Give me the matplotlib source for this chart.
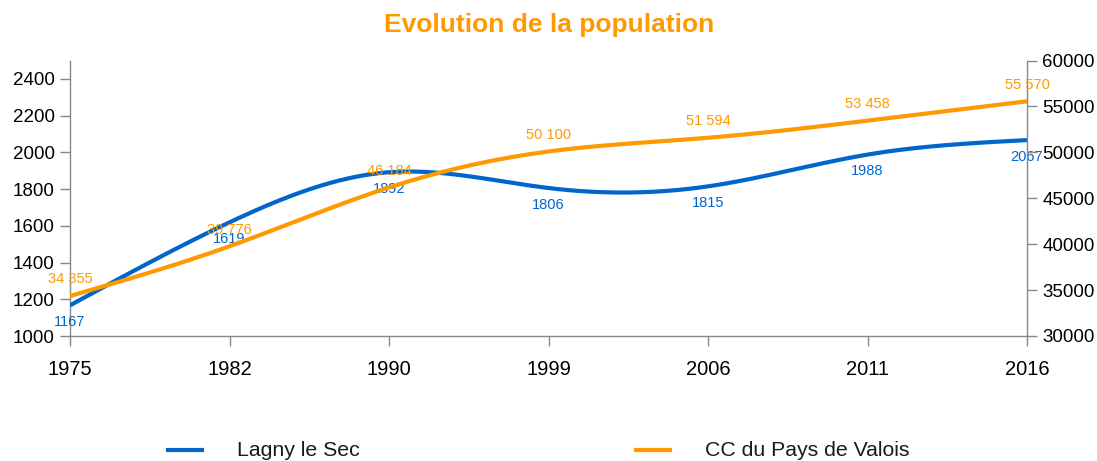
import numpy as np
import matplotlib
matplotlib.use("Agg")
import matplotlib.pyplot as plt
from matplotlib.lines import Line2D
from matplotlib import font_manager

plt.rcParams['font.family'] = ['Liberation Sans', 'DejaVu Sans']

years = ['1975', '1982', '1990', '1999', '2006', '2011', '2016']
lagny = [1167, 1619, 1892, 1806, 1815, 1988, 2067]
valois = [34355, 39776, 46184, 50100, 51594, 53458, 55570]
valois_labels = ['34 355', '39 776', '46 184', '50 100', '51 594', '53 458', '55 570']

BLUE = '#0066cc'
ORANGE = '#ff9900'
GRAY = '#888888'

names = {f.name for f in font_manager.fontManager.ttflist}
if 'Liberation Sans Narrow' in names:
    LBL_FAMILY = ['Liberation Sans Narrow', 'DejaVu Sans']
    LBL_SIZE = 12.5
else:
    LBL_FAMILY = ['Liberation Sans', 'DejaVu Sans']
    LBL_SIZE = 10.5


def natural_spline(x, y, n=400):
    x = np.asarray(x, float)
    y = np.asarray(y, float)
    m = len(x)
    h = np.diff(x)
    A = np.zeros((m, m))
    b = np.zeros(m)
    A[0, 0] = 1
    A[-1, -1] = 1
    for i in range(1, m - 1):
        A[i, i - 1] = h[i - 1]
        A[i, i] = 2 * (h[i - 1] + h[i])
        A[i, i + 1] = h[i]
        b[i] = 6 * ((y[i + 1] - y[i]) / h[i] - (y[i] - y[i - 1]) / h[i - 1])
    M = np.linalg.solve(A, b)
    xs = np.linspace(x[0], x[-1], n)
    ys = np.empty_like(xs)
    for k, xv in enumerate(xs):
        i = min(np.searchsorted(x, xv, side='right') - 1, m - 2)
        t0 = x[i + 1] - xv
        t1 = xv - x[i]
        ys[k] = (M[i] * t0 ** 3 / (6 * h[i]) + M[i + 1] * t1 ** 3 / (6 * h[i])
                 + (y[i] / h[i] - M[i] * h[i] / 6) * t0
                 + (y[i + 1] / h[i] - M[i + 1] * h[i] / 6) * t1)
    return xs, ys


fig = plt.figure(figsize=(10.97, 4.61), dpi=100)
ax = fig.add_axes([70 / 1097, 1 - 336 / 461, (1027 - 70) / 1097, (336 - 60.6) / 461])
ax2 = ax.twinx()

x = np.arange(len(years))
xs, ys = natural_spline(x, lagny)
ax.plot(xs, ys, color=BLUE, lw=3, solid_capstyle='butt', zorder=3)
xs2, ys2 = natural_spline(x, valois)
ax2.plot(xs2, ys2, color=ORANGE, lw=3, solid_capstyle='butt', zorder=3)

ax.set_xlim(0, len(years) - 1)
ax.set_ylim(1000, 2500)
ax2.set_ylim(30000, 60000)
ax.set_yticks(np.arange(1000, 2401, 200))
ax2.set_yticks(np.arange(30000, 60001, 5000))
ax.set_xticks(x)
ax.set_xticklabels(years, fontsize=14.5)
ax.tick_params(axis='x', length=7, color=GRAY, width=1, pad=10)
ax.tick_params(axis='y', length=7, color=GRAY, width=1, labelsize=13.5, pad=4)
ax2.tick_params(axis='y', length=7, color=GRAY, width=1, labelsize=13.5, pad=4)

for a in (ax, ax2):
    a.spines['top'].set_visible(False)
    for s in ('left', 'right', 'bottom'):
        a.spines[s].set_color(GRAY)
        a.spines[s].set_linewidth(1)
ax.spines['right'].set_visible(False)
ax2.spines['left'].set_visible(False)
ax2.spines['bottom'].set_visible(False)

for xi, v in zip(x, lagny):
    ax.annotate(str(v), (xi, v), xytext=(0, -12), textcoords='offset points',
                ha='center', va='center', color=BLUE, fontsize=LBL_SIZE,
                family=LBL_FAMILY, zorder=5)
for xi, v, lab in zip(x, valois, valois_labels):
    ax2.annotate(lab, (xi, v), xytext=(0, 12), textcoords='offset points',
                 ha='center', va='center', color=ORANGE, fontsize=LBL_SIZE,
                 family=LBL_FAMILY, zorder=5)

fig.text(549 / 1097, 1 - 25 / 461, 'Evolution de la population', ha='center', va='center',
         color=ORANGE, fontsize=19, fontweight='bold')

# legend
for hx, col, lab in ((168, BLUE, 'Lagny le Sec'), (636, ORANGE, 'CC du Pays de Valois')):
    yl = 1 - 450 / 461
    fig.add_artist(Line2D([hx / 1097, (hx + 34) / 1097], [yl, yl], color=col, lw=3,
                          transform=fig.transFigure))
    fig.text((hx + 69) / 1097, yl, lab, ha='left', va='center', fontsize=15.3, color='#1a1a1a')

fig.savefig('out.png', dpi=100)
